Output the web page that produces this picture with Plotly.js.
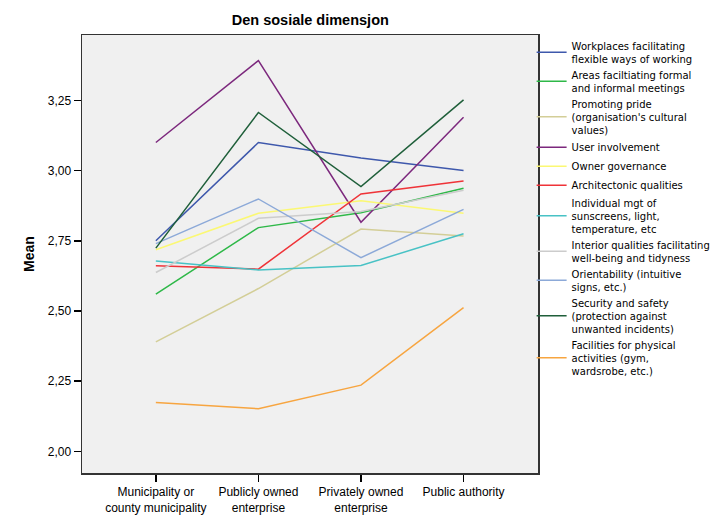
<!DOCTYPE html>
<html>
<head>
<meta charset="utf-8">
<script src="https://cdn.plot.ly/plotly-3.0.1.min.js"></script>
<style>html,body{margin:0;padding:0;background:#fff;}#chart{width:725px;height:517px;}</style>
</head>
<body>
<div id="chart"></div>
<script>
const categories = ["Municipality or<br>county municipality", "Publicly owned<br>enterprise", "Privately owned<br>enterprise", "Public authority"];

const seriesNames = [
  "Workplaces facilitating<br>flexible ways of working",
  "Areas faciltiating formal<br>and informal meetings",
  "Promoting pride<br>(organisation's cultural<br>values)",
  "User involvement",
  "Owner governance",
  "Architectonic qualities",
  "Individual mgt of<br>sunscreens, light,<br>temperature, etc",
  "Interior qualities facilitating<br>well-being and tidyness",
  "Orientability (intuitive<br>signs, etc.)",
  "Security and safety<br>(protection against<br>unwanted incidents)",
  "Facilities for physical<br>activities (gym,<br>wardsrobe, etc.)"
];

const workplaces   = [2.75, 3.10, 3.045, 3.00];
const areas        = [2.56, 2.797, 2.85, 2.937];
const pride        = [2.39, 2.58, 2.792, 2.767];
const userInv      = [3.10, 3.392, 2.816, 3.19];
const owner        = [2.718, 2.848, 2.893, 2.848];
const architect    = [2.661, 2.649, 2.917, 2.963];
const individual   = [2.678, 2.646, 2.662, 2.775];
const interior     = [2.637, 2.83, 2.854, 2.93];
const orient       = [2.74, 2.899, 2.69, 2.862];
const security     = [2.724, 3.207, 2.943, 3.252];
const facilities   = [2.174, 2.152, 2.236, 2.512];

const seriesValues = [workplaces, areas, pride, userInv, owner, architect, individual, interior, orient, security, facilities];
const colors = ["#3E58AC", "#2EB848", "#D3CE97", "#7C287D", "#FBF873", "#EF3338", "#48C2C5", "#CCCCCC", "#8CA9D8", "#1F5F3A", "#F7A540"];

const yTicks = [2.00, 2.25, 2.50, 2.75, 3.00, 3.25];

const traces = seriesValues.map((vals, i) => ({
  type: "scatter",
  mode: "lines",
  x: [0, 1, 2, 3],
  y: vals,
  name: seriesNames[i],
  line: {color: colors[i], width: 1.5}
}));

const font = "Liberation Sans, Arial, sans-serif";

const layout = {
  width: 725, height: 517,
  margin: {l: 82, r: 187, t: 35, b: 44, autoexpand: false},
  paper_bgcolor: "#ffffff",
  plot_bgcolor: "#F0F0F0",
  separators: ", ",
  font: {family: font, size: 12, color: "#000"},
  title: {text: "<b>Den sosiale dimensjon</b>", x: 0.428, xanchor: "center", y: 0.962, yanchor: "middle", font: {family: font, size: 14.5, color: "#000"}},
  xaxis: {
    range: [-0.72, 3.726],
    tickmode: "array",
    tickvals: [0, 1, 2, 3],
    ticktext: categories,
    showgrid: false, zeroline: false,
    showline: true, mirror: true, linecolor: "#333", linewidth: 1.5,
    ticks: "outside", ticklen: 7, tickcolor: "#000", tickwidth: 1.5,
    tickfont: {family: font, size: 12, color: "#000"}
  },
  yaxis: {
    range: [1.923, 3.483],
    tickmode: "array",
    tickvals: yTicks,
    tickformat: ".2f",
    showgrid: false, zeroline: false,
    showline: true, mirror: true, linecolor: "#333", linewidth: 1.5,
    ticks: "outside", ticklen: 7, tickcolor: "#000", tickwidth: 1.5,
    tickfont: {family: font, size: 12, color: "#000"},
    title: {text: "<b>Mean</b>", font: {family: font, size: 14, color: "#000"}, standoff: 10}
  },
  showlegend: true,
  legend: {
    x: 0.986, xanchor: "left", y: 1.005, yanchor: "top",
    bgcolor: "rgba(0,0,0,0)", borderwidth: 0,
    font: {family: "DejaVu Sans, sans-serif", size: 10, color: "#000"},
    itemwidth: 30, tracegroupgap: 0, maxheight: 1
  }
};

Plotly.newPlot("chart", traces, layout, {displayModeBar: false, staticPlot: true});
</script>
</body>
</html>
